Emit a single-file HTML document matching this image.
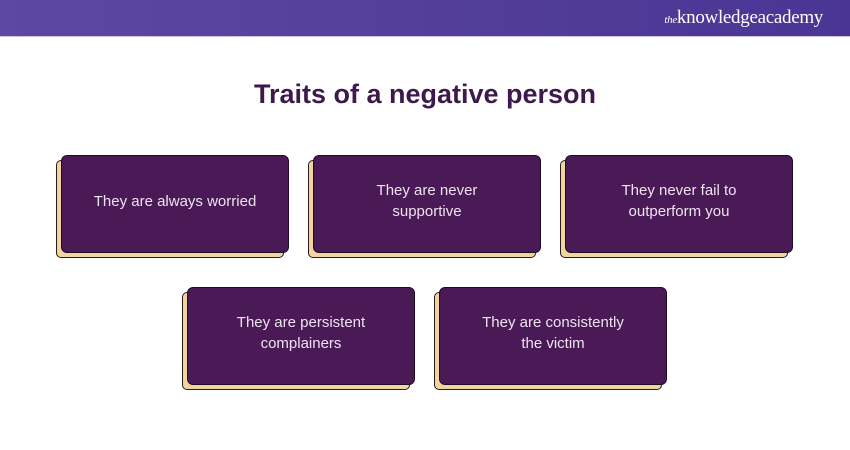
<!DOCTYPE html>
<html><head><style>
body{margin:0;width:850px;height:450px;background:#fff;position:relative;overflow:hidden;font-family:"Liberation Sans",sans-serif}
.hdr{position:absolute;left:0;top:0;width:850px;height:36px;background:linear-gradient(90deg,#5d48a3,#4a3594);border-bottom:1px solid #c9c3df}
.logo{position:absolute;right:27px;top:7px;color:#fff;font-family:"Liberation Serif",serif;font-size:19px;letter-spacing:-0.3px}
.logo i{font-size:11px}
h1{position:absolute;top:79px;left:0;width:850px;margin:0;text-align:center;color:#3e1a4c;font-size:27px;font-weight:bold}
.sh{position:absolute;width:228px;height:98px;background:#f2d59e;border:1px solid #2a1a1a;border-radius:5px;box-sizing:border-box}
.bx{position:absolute;width:228px;height:98px;padding-bottom:6px;background:#4a1a56;border:1px solid #1e0d24;border-radius:6px;box-sizing:border-box;color:#eee3f0;font-size:15px;display:flex;align-items:center;justify-content:center;text-align:center;line-height:21px}
</style></head><body>
<div class="hdr"><div class="logo"><i>the</i>knowledgeacademy</div></div>
<h1>Traits of a negative person</h1>
<div class="sh" style="left:56px;top:160px"></div><div class="bx" style="left:61px;top:155px">They are always worried</div>
<div class="sh" style="left:308px;top:160px"></div><div class="bx" style="left:313px;top:155px">They are never<br>supportive</div>
<div class="sh" style="left:560px;top:160px"></div><div class="bx" style="left:565px;top:155px">They never fail to<br>outperform you</div>
<div class="sh" style="left:182px;top:292px"></div><div class="bx" style="left:187px;top:287px">They are persistent<br>complainers</div>
<div class="sh" style="left:434px;top:292px"></div><div class="bx" style="left:439px;top:287px">They are consistently<br>the victim</div>
</body></html>
